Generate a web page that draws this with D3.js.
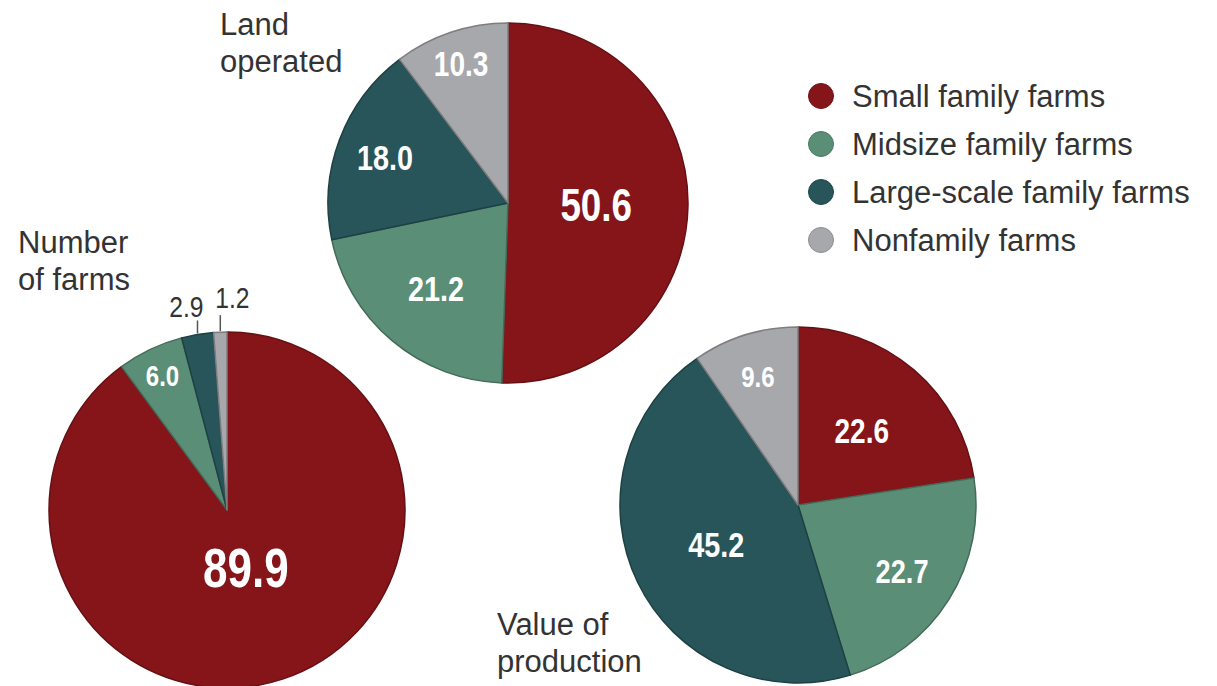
<!DOCTYPE html>
<html>
<head>
<meta charset="utf-8">
<script src="https://cdn.jsdelivr.net/npm/d3@7"></script>
<style>
  body { margin: 0; background: #fff; }
  .title, .legend_text { font-family: "Liberation Sans", Arial, sans-serif; font-size: 31px; fill: #333; }
  .slice_label { font-family: "Liberation Sans", Arial, sans-serif; font-weight: bold; }
</style>
</head>
<body>
<script>

// data
const categories = ["Small family farms", "Midsize family farms", "Large-scale family farms", "Nonfamily farms"];
const farmsShare = [89.9, 6.0, 2.9, 1.2];
const landShare = [50.6, 21.2, 18.0, 10.3];
const valueShare = [22.6, 22.7, 45.2, 9.6];
const colors = ["#86151a", "#5a8e77", "#285559", "#a7a8ac"];

// layout of the three pies (not data)
const pies = [
    {
        values: farmsShare, title: ["Number", "of farms"], titleX: 18, titleY: 253,
        cx: 227, cy: 510, r: 178,
        labelRadius: [0.34, 0.84, 0, 0], labelSize: [55, 30, 0, 0],
        outside: { 2: { dx: 6, dy: -17, anchor: "end", line: 14 }, 3: { dx: -5, dy: -24, anchor: "start", line: 17 } }
    },
    {
        values: landShare, title: ["Land", "operated"], titleX: 220, titleY: 35,
        cx: 508, cy: 203, r: 180,
        labelRadius: [0.49, 0.62, 0.73, 0.82], labelSize: [46, 36, 36, 35],
        outside: {}
    },
    {
        values: valueShare, title: ["Value of", "production"], titleX: 497, titleY: 635,
        cx: 798, cy: 505, r: 178,
        labelRadius: [0.55, 0.69, 0.51, 0.76], labelSize: [35, 34, 36, 30],
        outside: {}
    }
];

// the original numbers use a condensed face; squeeze them horizontally
const squeeze = 0.8;

const svg = d3.select('body')
    .append('svg')
    .attr("width", 1217)
    .attr("height", 686);

const color = d3.scaleOrdinal().domain(d3.range(categories.length)).range(colors);
const pie = d3.pie().sort(null).value(d => d);

pies.forEach(drawPie);
drawLegend();

function drawPie(p) {
    const g = svg.append('g').attr('transform', `translate(${p.cx},${p.cy})`);
    const arcs = pie(p.values);
    const arc = d3.arc().innerRadius(0).outerRadius(p.r);

    g.selectAll('path')
        .data(arcs)
        .enter().append('path')
        .attr('d', arc)
        .attr('fill', (d, i) => color(i))
        .attr('stroke', (d, i) => d3.color(color(i)).darker(0.8))
        .attr('stroke-width', 1.5)
        .attr('stroke-linejoin', 'round');

    arcs.forEach((d, i) => {
        const out = p.outside[i];
        if (out) {
            const edge = d3.arc().innerRadius(p.r).outerRadius(p.r).centroid(d);
            g.append('line')
                .attr('x1', edge[0]).attr('y1', edge[1] - 1)
                .attr('x2', edge[0]).attr('y2', edge[1] - out.line)
                .attr('stroke', '#555')
                .attr('stroke-width', 1.5);
            g.append('g')
                .attr('transform', `translate(${edge[0] + out.dx},${edge[1] + out.dy}) scale(0.85,1)`)
                .append('text')
                .attr('class', 'slice_label')
                .attr('text-anchor', out.anchor)
                .style('font-weight', 'normal')
                .style('font-size', '29px')
                .attr('fill', '#333')
                .text(d.data.toFixed(1));
            return;
        }
        const lr = p.r * p.labelRadius[i];
        const pos = d3.arc().innerRadius(lr).outerRadius(lr).centroid(d);
        g.append('g')
            .attr('transform', `translate(${pos[0]},${pos[1]}) scale(${squeeze},1)`)
            .append('text')
            .attr('class', 'slice_label')
            .attr('text-anchor', 'middle')
            .attr('dy', '0.36em')
            .style('font-size', p.labelSize[i] + 'px')
            .attr('fill', '#fff')
            .text(d.data.toFixed(1));
    });

    const t = svg.append('text')
        .attr('class', 'title')
        .attr('x', p.titleX)
        .attr('y', p.titleY);
    p.title.forEach((line, k) => {
        t.append('tspan')
            .attr('x', p.titleX)
            .attr('dy', k === 0 ? 0 : 37)
            .text(line);
    });
}

function drawLegend() {
    const legend = svg.append('g').attr('transform', 'translate(821,96)');
    const rows = legend.selectAll('g')
        .data(categories)
        .enter().append('g')
        .attr('transform', (d, i) => `translate(0,${i * 48})`);

    rows.append('circle')
        .attr('r', 12.5)
        .attr('fill', (d, i) => color(i))
        .attr('stroke', (d, i) => d3.color(color(i)).darker(0.5))
        .attr('stroke-width', 1);

    rows.append('text')
        .attr('class', 'legend_text')
        .attr('x', 31)
        .attr('dy', '0.36em')
        .text(d => d);
}
</script>
</body>
</html>
